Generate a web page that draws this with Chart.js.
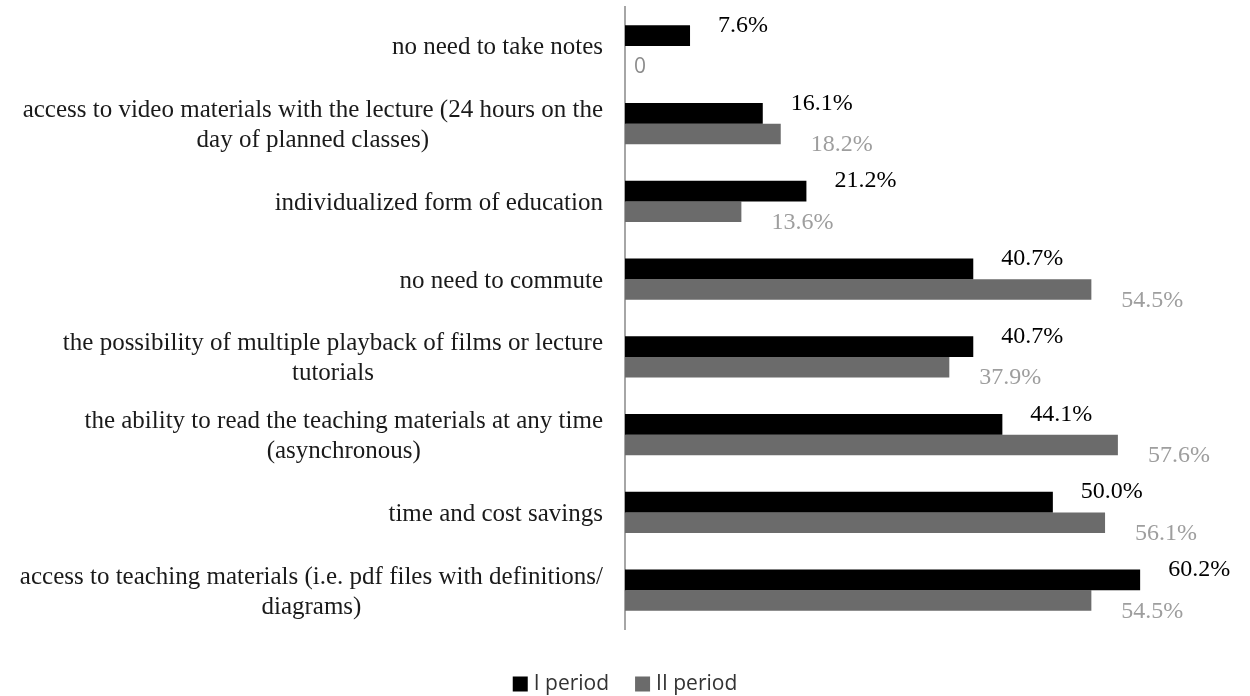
<!DOCTYPE html>
<html>
<head>
<meta charset="utf-8">
<script src="https://cdn.jsdelivr.net/npm/chart.js@4"></script>
<style>
  html, body { margin: 0; padding: 0; background: #fff; }
  #wrap { width: 1250px; height: 696px; }
</style>
</head>
<body>
<div id="wrap"><canvas id="chart"></canvas></div>
<script>
const categories = [
  ['no need to take notes'],
  ['access to video materials with the lecture (24 hours on the', 'day of planned classes)'],
  ['individualized form of education'],
  ['no need to commute'],
  ['the possibility of multiple playback of films or lecture', 'tutorials'],
  ['the ability to read the teaching materials at any time', '(asynchronous)'],
  ['time and cost savings'],
  ['access to teaching materials (i.e. pdf files with definitions/', 'diagrams)']
];
const period1 = [7.6, 16.1, 21.2, 40.7, 40.7, 44.1, 50.0, 60.2];
const period2 = [0, 18.2, 13.6, 54.5, 37.9, 57.6, 56.1, 54.5];
const seriesNames = ['I period', 'II period'];

const serif = '"Liberation Serif", "Times New Roman", serif';
const sans = '"Open Sans", "Noto Sans", sans-serif';

// category labels: block right-aligned next to axis, lines centred in the block
const catLabels = {
  id: 'catLabels',
  afterDraw(chart) {
    const ctx = chart.ctx;
    const y = chart.scales.y;
    ctx.save();
    ctx.font = '25px ' + serif;
    ctx.fillStyle = '#1a1a1a';
    ctx.textAlign = 'center';
    ctx.textBaseline = 'middle';
    const right = chart.chartArea.left - 22;
    const lh = 30;
    categories.forEach((lines, i) => {
      const w = Math.max(...lines.map(l => ctx.measureText(l).width));
      const cx = right - w / 2;
      const cy = y.getPixelForValue(i) + 2;
      lines.forEach((l, j) => {
        ctx.fillText(l, cx, cy + (j - (lines.length - 1) / 2) * lh);
      });
    });
    ctx.restore();
  }
};

const valueLabels = {
  id: 'valueLabels',
  afterDatasetsDraw(chart) {
    const ctx = chart.ctx;
    ctx.save();
    ctx.textAlign = 'left';
    ctx.textBaseline = 'middle';
    chart.data.datasets.forEach((ds, di) => {
      chart.getDatasetMeta(di).data.forEach((bar, i) => {
        const v = ds.data[i];
        if (di === 0) {
          ctx.font = '24px ' + serif;
          ctx.fillStyle = '#000';
          ctx.fillText(v.toFixed(1) + '%', bar.x + 28, bar.y - 10);
        } else if (v === 0) {
          ctx.font = '21px ' + sans;
          ctx.fillStyle = '#8c8c8c';
          ctx.fillText('0', bar.x + 9, bar.y + 11);
        } else {
          ctx.font = '24px ' + serif;
          ctx.fillStyle = '#9e9e9e';
          ctx.fillText(v.toFixed(1) + '%', bar.x + 30, bar.y + 11);
        }
      });
    });
    ctx.restore();
  }
};

const bottomLegend = {
  id: 'bottomLegend',
  afterDraw(chart) {
    const ctx = chart.ctx;
    ctx.save();
    ctx.font = '21px ' + sans;
    ctx.textBaseline = 'middle';
    ctx.textAlign = 'left';
    const box = 15, gapText = 6, gapItem = 26, cy = 684;
    const items = chart.data.datasets.map(d => ({ text: d.label, color: d.backgroundColor }));
    const total = items.reduce((s, it) => s + box + gapText + ctx.measureText(it.text).width, 0) + gapItem * (items.length - 1);
    let x = (chart.width - total) / 2;
    items.forEach(it => {
      ctx.fillStyle = it.color;
      ctx.fillRect(x, cy - box / 2, box, box);
      x += box + gapText;
      ctx.fillStyle = '#333';
      ctx.fillText(it.text, x, cy);
      x += ctx.measureText(it.text).width + gapItem;
    });
    ctx.restore();
  }
};

new Chart(document.getElementById('chart'), {
  type: 'bar',
  data: {
    labels: categories,
    datasets: [
      { label: seriesNames[0], data: period1, backgroundColor: '#000000' },
      { label: seriesNames[1], data: period2, backgroundColor: '#6b6b6b' }
    ]
  },
  options: {
    indexAxis: 'y',
    responsive: true,
    maintainAspectRatio: false,
    animation: false,
    layout: { padding: { top: 7, right: 26, bottom: 67, left: 0 } },
    datasets: { bar: { categoryPercentage: 0.53, barPercentage: 1 } },
    scales: {
      x: { display: false, min: 0, max: 70 },
      y: {
        ticks: { display: false },
        grid: { display: false },
        border: { display: true, color: '#a6a6a6', width: 2 },
        afterFit(s) { s.width = 625; }
      }
    },
    plugins: {
      legend: { display: false },
      tooltip: { enabled: false }
    }
  },
  plugins: [catLabels, valueLabels, bottomLegend]
});
</script>
</body>
</html>
